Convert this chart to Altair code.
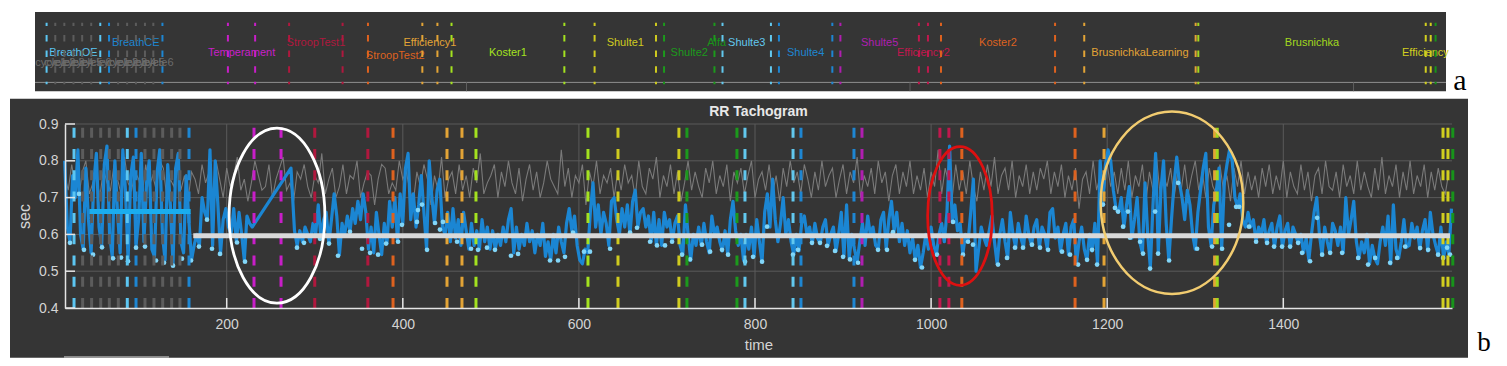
import altair as alt
import pandas as pd

# ---------------- scales / layout (plot area of panel b) ----------------
W, H = 1387, 184
T_DOMAIN_B = [16.35, 1591.6]      # time axis of the RR tachogram
T_DOMAIN_A = [47.35, 1611.0]      # time axis of the event strip (panel a)
Y_DOMAIN = [0.4, 0.9]

x_ticks = [200, 400, 600, 800, 1000, 1200, 1400]
y_ticks = [0.4, 0.5, 0.6, 0.7, 0.8, 0.9]
y_grid = [0.5, 0.6, 0.7, 0.8, 0.9]
strip_grid = [500, 1000, 1500]

# ---------------- blue RR series (t = start + 3*i) ----------------
blue_starts = [16, 273, 277, 403, 502, 613, 718, 832, 1003, 1078, 1192, 1366]
blue_a = [0.80, 0.62, 0.58, 0.76, 0.70, 0.83, 0.60, 0.56, 0.78, 0.64, 0.55, 0.74, 0.82, 0.62, 0.57,
          0.79, 0.84, 0.60, 0.54, 0.80, 0.66, 0.55, 0.83, 0.72, 0.53, 0.76, 0.81, 0.57, 0.64, 0.82,
          0.58, 0.74, 0.80, 0.56, 0.54, 0.77, 0.83, 0.60, 0.53, 0.79, 0.68, 0.52, 0.78, 0.82, 0.58,
          0.55, 0.76, 0.64, 0.53, 0.57, 0.60, 0.57, 0.70, 0.66, 0.64, 0.83, 0.57, 0.80, 0.68, 0.55,
          0.64, 0.67, 0.62, 0.60, 0.67, 0.58, 0.66, 0.60, 0.53, 0.65, 0.63, 0.62]
blue_gap = [0.78]
blue_b = [0.61, 0.57, 0.61, 0.58, 0.62, 0.60, 0.58, 0.63, 0.60, 0.68, 0.59, 0.64, 0.66, 0.575, 0.64,
          0.71, 0.65, 0.545, 0.63, 0.60, 0.65, 0.607, 0.67, 0.63, 0.69, 0.64, 0.71, 0.66, 0.56, 0.62,
          0.55, 0.66, 0.60, 0.545, 0.63, 0.575, 0.69, 0.62, 0.70, 0.58, 0.71, 0.63]
blue_c = [0.78, 0.82, 0.64, 0.71, 0.62, 0.68, 0.76, 0.66, 0.56, 0.80, 0.70, 0.63, 0.72, 0.75, 0.62,
          0.60, 0.66, 0.58, 0.67, 0.59, 0.64, 0.57, 0.66, 0.61, 0.56, 0.63, 0.57, 0.61, 0.56, 0.64,
          0.58, 0.62, 0.56]
blue_d = [0.61, 0.56, 0.60, 0.57, 0.62, 0.58, 0.64, 0.67, 0.55, 0.62, 0.56, 0.60, 0.57, 0.63, 0.58,
          0.61, 0.55, 0.60, 0.57, 0.63, 0.54, 0.58, 0.53, 0.60, 0.55, 0.62, 0.58, 0.55, 0.63, 0.67,
          0.61, 0.65, 0.57, 0.53, 0.52, 0.56, 0.55]
blue_e = [0.66, 0.74, 0.62, 0.68, 0.60, 0.66, 0.63, 0.57, 0.69, 0.70, 0.64, 0.60, 0.67, 0.62, 0.68,
          0.60, 0.69, 0.72, 0.62, 0.66, 0.67, 0.62, 0.65, 0.58, 0.66, 0.57, 0.64, 0.57, 0.66, 0.62,
          0.64, 0.58, 0.63, 0.65, 0.57]
blue_f = [0.545, 0.68, 0.60, 0.53, 0.60, 0.57, 0.62, 0.57, 0.63, 0.58, 0.55, 0.65, 0.60, 0.62, 0.58,
          0.555, 0.61, 0.545, 0.64, 0.69, 0.61, 0.57, 0.60, 0.53, 0.60, 0.56, 0.62, 0.54, 0.64, 0.58,
          0.525, 0.66, 0.71, 0.62, 0.75, 0.64, 0.58, 0.63]
blue_g = [0.70, 0.60, 0.64, 0.58, 0.545, 0.60, 0.555, 0.63, 0.65, 0.60, 0.62, 0.575, 0.63, 0.59, 0.575,
          0.62, 0.64, 0.57, 0.60, 0.62, 0.555, 0.60, 0.66, 0.54, 0.68, 0.535, 0.60, 0.56, 0.525, 0.58,
          0.63, 0.57, 0.65, 0.60, 0.62, 0.57, 0.56, 0.64, 0.66, 0.56, 0.64, 0.69, 0.61, 0.66, 0.58,
          0.63, 0.57, 0.61, 0.55, 0.59, 0.53, 0.57, 0.51, 0.55, 0.60, 0.56, 0.62]
blue_h = [0.57, 0.545, 0.60, 0.63, 0.58, 0.66, 0.84, 0.635, 0.68, 0.61, 0.63, 0.545, 0.60, 0.58, 0.66,
          0.75, 0.50, 0.56, 0.62, 0.59, 0.57, 0.61, 0.65, 0.58, 0.52]
blue_i = [0.60, 0.64, 0.58, 0.535, 0.66, 0.60, 0.565, 0.63, 0.59, 0.565, 0.65, 0.60, 0.57, 0.62, 0.64,
          0.565, 0.62, 0.60, 0.56, 0.66, 0.67, 0.59, 0.62, 0.555, 0.60, 0.63, 0.545, 0.62, 0.64, 0.52,
          0.58, 0.62, 0.56, 0.53, 0.60, 0.555, 0.63, 0.52]
blue_j = [0.80, 0.68, 0.79, 0.83, 0.80, 0.72, 0.67, 0.66, 0.70, 0.62, 0.68, 0.73, 0.59, 0.64, 0.70,
          0.58, 0.55, 0.74, 0.60, 0.51, 0.68, 0.82, 0.55, 0.72, 0.80, 0.63, 0.53, 0.64, 0.74, 0.81,
          0.74, 0.70, 0.64, 0.72, 0.68, 0.60, 0.56, 0.66, 0.72, 0.78, 0.82, 0.62, 0.57, 0.68, 0.72,
          0.78, 0.56, 0.74, 0.79, 0.83, 0.80, 0.70, 0.675, 0.71, 0.64, 0.62, 0.66, 0.62]
blue_k = [0.64, 0.58, 0.62, 0.60, 0.64, 0.575, 0.61, 0.63, 0.565, 0.62, 0.65, 0.565, 0.61, 0.63, 0.565,
          0.62, 0.60, 0.575, 0.60, 0.55, 0.59, 0.53, 0.60, 0.66, 0.70, 0.60, 0.545, 0.62, 0.58, 0.55,
          0.63, 0.61, 0.57, 0.62, 0.55, 0.70, 0.60, 0.64, 0.69, 0.58, 0.535, 0.58, 0.55, 0.60, 0.52,
          0.57, 0.535, 0.52, 0.58, 0.62, 0.57, 0.65, 0.52, 0.68, 0.56, 0.535, 0.58, 0.64, 0.565, 0.57,
          0.63, 0.59, 0.62, 0.56, 0.61, 0.64, 0.555, 0.66, 0.60, 0.57, 0.545, 0.62, 0.535, 0.58, 0.545,
          0.67]
blue_segments = [blue_a, blue_gap, blue_b, blue_c, blue_d, blue_e, blue_f, blue_g, blue_h,
                 blue_i, blue_j, blue_k]

# ---------------- gray RR series (t = 16 + 4*i) ----------------
gray_v = [
    0.76, 0.72, 0.79, 0.73, 0.70, 0.77, 0.80, 0.71, 0.74, 0.76, 0.70, 0.78, 0.74, 0.72, 0.79, 0.75, 0.71, 0.81, 0.74, 0.72,
    0.77, 0.75, 0.70, 0.79, 0.73, 0.76, 0.72, 0.80, 0.78, 0.70, 0.75, 0.73, 0.82, 0.72, 0.76, 0.69, 0.77, 0.75, 0.71, 0.79,
    0.74, 0.77, 0.71, 0.80, 0.75, 0.70, 0.78, 0.73, 0.76, 0.81, 0.72, 0.75, 0.69, 0.74, 0.80, 0.76, 0.72, 0.73, 0.79, 0.70,
    0.75, 0.78, 0.81, 0.72, 0.74, 0.69, 0.77, 0.75, 0.79, 0.73, 0.70, 0.76, 0.74, 0.82, 0.71, 0.75, 0.78, 0.70, 0.73, 0.79,
    0.71, 0.76, 0.75, 0.80, 0.70, 0.74, 0.77, 0.76, 0.68, 0.75, 0.79, 0.78, 0.71, 0.74, 0.72, 0.80, 0.75, 0.77, 0.72, 0.69,
    0.77, 0.73, 0.79, 0.75, 0.68, 0.76, 0.72, 0.81, 0.70, 0.75, 0.77, 0.71, 0.79, 0.72, 0.76, 0.70, 0.78, 0.74, 0.82, 0.71,
    0.74, 0.76, 0.79, 0.70, 0.77, 0.73, 0.80, 0.74, 0.71, 0.78, 0.69, 0.75, 0.79, 0.72, 0.77, 0.70, 0.74, 0.80, 0.75, 0.73,
    0.71, 0.83, 0.73, 0.78, 0.70, 0.76, 0.74, 0.79, 0.68, 0.77, 0.73, 0.80, 0.71, 0.76, 0.74, 0.78, 0.70, 0.77, 0.72, 0.79,
    0.74, 0.76, 0.70, 0.80, 0.73, 0.71, 0.78, 0.75, 0.81, 0.70, 0.76, 0.73, 0.79, 0.71, 0.77, 0.69, 0.74, 0.80, 0.72, 0.77,
    0.73, 0.70, 0.78, 0.74, 0.80, 0.71, 0.76, 0.73, 0.79, 0.69, 0.77, 0.74, 0.78, 0.71, 0.76, 0.80, 0.70, 0.75, 0.77, 0.72,
    0.79, 0.71, 0.76, 0.69, 0.78, 0.73, 0.80, 0.74, 0.77, 0.71, 0.79, 0.75, 0.70, 0.77, 0.72, 0.80, 0.73, 0.76, 0.78, 0.70,
    0.75, 0.79, 0.71, 0.77, 0.74, 0.81, 0.70, 0.76, 0.73, 0.78, 0.71, 0.80, 0.74, 0.77, 0.69, 0.76, 0.79, 0.71, 0.77, 0.73,
    0.80, 0.71, 0.76, 0.72, 0.78, 0.70, 0.77, 0.73, 0.83, 0.71, 0.78, 0.74, 0.70, 0.79, 0.72, 0.77, 0.71, 0.80, 0.73, 0.69,
    0.77, 0.72, 0.79, 0.73, 0.81, 0.71, 0.76, 0.78, 0.72, 0.80, 0.70, 0.76, 0.73, 0.79, 0.71, 0.77, 0.72, 0.78, 0.75, 0.80,
    0.71, 0.77, 0.73, 0.79, 0.70, 0.76, 0.72, 0.78, 0.67, 0.75, 0.77, 0.71, 0.80, 0.72, 0.76, 0.70, 0.79, 0.73, 0.77, 0.71,
    0.78, 0.72, 0.80, 0.70, 0.76, 0.73, 0.79, 0.69, 0.77, 0.72, 0.81, 0.71, 0.76, 0.73, 0.78, 0.70, 0.77, 0.72, 0.79, 0.71,
    0.76, 0.80, 0.72, 0.77, 0.70, 0.78, 0.73, 0.71, 0.79, 0.72, 0.76, 0.69, 0.78, 0.73, 0.80, 0.71, 0.77, 0.72, 0.76, 0.70,
    0.78, 0.73, 0.79, 0.71, 0.76, 0.72, 0.80, 0.70, 0.77, 0.73, 0.71, 0.79, 0.72, 0.77, 0.69, 0.76, 0.78, 0.71, 0.80, 0.73,
    0.72, 0.77, 0.70, 0.79, 0.73, 0.76, 0.71, 0.80, 0.72, 0.77, 0.73, 0.70, 0.78, 0.72, 0.81, 0.71, 0.76, 0.73, 0.79, 0.70,
    0.77, 0.72, 0.80, 0.71, 0.76, 0.73, 0.79, 0.70, 0.77, 0.72, 0.78, 0.73, 0.71, 0.77,
]

# ---------------- light-blue beat dots ----------------
dot_t = [22.0, 32.3, 37.9, 48.2, 58.4, 70.9, 80.0, 87.9, 97.0, 107.2, 119.7, 128.8, 139.0, 149.2, 159.5,
         168.5, 177.6, 183.3, 192.4, 211.7, 220.8, 279.8, 287.8, 306.0, 316.2, 326.4, 340.0, 353.7, 362.8,
         371.9, 381.0, 394.6, 399.1, 416.1, 417.2, 421.8, 427.5, 436.6, 442.2, 445.6, 461.6, 477.5, 485.4,
         495.6, 504.7, 522.9, 530.9, 567.2, 576.3, 584.2, 593.3, 605.8, 612.6, 635.4, 658.1, 666.0, 680.8,
         688.7, 697.8, 705.8, 717.1, 726.2, 739.9, 749.0, 762.5, 769.4, 788.7, 797.8, 808.0, 813.7, 843.1,
         848.8, 864.7, 873.8, 881.8, 890.9, 900.0, 907.9, 917.0, 939.7, 949.9, 956.7, 981.7, 989.7, 1006.7,
         1024.9, 1036.2, 1041.9, 1047.6, 1076.0, 1086.2, 1095.3, 1104.4, 1114.6, 1123.7, 1132.8, 1148.7,
         1157.8, 1166.9, 1177.1, 1182.8, 1188.5, 1195.2, 1208.8, 1212.3, 1218.0, 1223.6, 1225.9, 1237.3,
         1240.7, 1248.7, 1254.4, 1257.8, 1270.3, 1280.5, 1302.1, 1319.1, 1330.5, 1338.4, 1346.4, 1349.8,
         1361.1, 1369.1, 1381.6, 1389.5, 1398.6, 1407.7, 1416.8, 1421.3, 1430.4, 1438.4, 1444.1, 1453.2,
         1466.8, 1485.0, 1496.3, 1504.3, 1521.3, 1529.3, 1538.4, 1555.4, 1564.5, 1575.8, 1581.5, 1586.0,
         1589.4]
dot_v = [0.577, 0.71, 0.558, 0.545, 0.565, 0.535, 0.537, 0.527, 0.564, 0.567, 0.529, 0.523, 0.515, 0.534, 0.529,
         0.567, 0.64, 0.561, 0.547, 0.578, 0.526, 0.564, 0.577, 0.588, 0.575, 0.542, 0.607, 0.561, 0.55,
         0.545, 0.575, 0.58, 0.626, 0.634, 0.666, 0.681, 0.558, 0.631, 0.613, 0.634, 0.58, 0.561, 0.558,
         0.564, 0.558, 0.542, 0.547, 0.529, 0.529, 0.539, 0.605, 0.553, 0.553, 0.561, 0.605, 0.618, 0.58,
         0.57, 0.57, 0.58, 0.545, 0.532, 0.572, 0.553, 0.558, 0.545, 0.526, 0.539, 0.526, 0.621, 0.545,
         0.558, 0.577, 0.577, 0.569, 0.555, 0.539, 0.532, 0.523, 0.558, 0.558, 0.606, 0.531, 0.51, 0.545,
         0.634, 0.545, 0.58, 0.572, 0.518, 0.536, 0.564, 0.564, 0.572, 0.564, 0.558, 0.553,
         0.545, 0.518, 0.531, 0.558, 0.518, 0.681, 0.672, 0.662, 0.621, 0.662, 0.591, 0.58,
         0.548, 0.507, 0.662, 0.548, 0.529, 0.74, 0.561, 0.567, 0.561, 0.626, 0.675, 0.675,
         0.621, 0.58, 0.577, 0.567, 0.567, 0.567, 0.577, 0.55, 0.527, 0.645, 0.545, 0.55,
         0.55, 0.536, 0.518, 0.536, 0.523, 0.536, 0.567, 0.563, 0.558, 0.545, 0.536, 0.564,
         0.545]

# ---------------- mean lines ----------------
mean_kind = ["baseline", "session"]
mean_t0 = [44.0, 162.0]
mean_t1 = [159.1, 1589.3]
mean_v = [0.6625, 0.5965]

# ---------------- events ----------------
event_names = ["BreathOE", "BreathCE", "cycle", "Temperament", "StroopTest1", "StroopTest2",
               "Efficiency1", "Koster1", "Shulte1", "Shulte2", "Alfa", "Shulte3", "Shulte4",
               "Shulte5", "Efficiency2", "Koster2", "BrusnichkaLearning", "Brusnichka", "Efficiency"]
event_colors = ["#5CC6F2", "#1E86D2", "#5C5C5C", "#C81EC8", "#B0183E", "#DE621F",
                "#E3A436", "#A4E21F", "#CFCB1F", "#1C9A1C", "#17941A", "#62C8EE", "#1E86D2",
                "#B01EB0", "#C0184E", "#DE621F", "#E3A436", "#A2D81F", "#D2CF1F"]

marker_t = [26.6, 36.4, 46.6, 56.9, 66.7, 76.9, 87.1, 97.0, 107.2, 117.4, 127.3, 137.5, 146.9, 157.2,
            231.0, 261.7, 300.0, 360.3, 388.9, 450.2, 467.2, 483.1, 610.3, 644.4, 713.6, 722.7, 779.5,
            788.6, 843.2, 852.2, 912.4, 921.5, 1010.0, 1020.2, 1034.9, 1163.5, 1196.4, 1322.0, 1325.0,
            1581.4, 1587.0, 1592.5]
marker_event = ["BreathOE", "cycle", "cycle", "cycle", "cycle", "cycle", "BreathOE", "BreathCE",
                "cycle", "cycle", "cycle", "cycle", "cycle", "BreathCE", "Temperament", "Temperament",
                "StroopTest1", "StroopTest1", "StroopTest2", "Efficiency1", "Efficiency1", "Koster1",
                "Koster1", "Shulte1", "Shulte1", "Shulte2", "Shulte2", "Shulte3", "Shulte3", "Shulte4",
                "Shulte4", "Shulte5", "Efficiency2", "Efficiency2", "Koster2", "Koster2",
                "BrusnichkaLearning", "BrusnichkaLearning", "Brusnichka", "Efficiency", "Efficiency", "Alfa"]

label_name = ["BreathOE", "BreathCE", "Temperament", "StroopTest1", "StroopTest2", "Efficiency1",
              "Koster1", "Shulte1", "Shulte2", "Alfa", "Shulte3", "Shulte4", "Shulte5", "Efficiency2",
              "Koster2", "BrusnichkaLearning", "Brusnichka", "Efficiency"]
label_t = [56.9, 127.1, 246.4, 330.2, 419.6, 458.7, 546.7, 679.0, 751.1, 782.0, 815.9, 882.3, 965.7,
           1015.1, 1099.2, 1259.2, 1453.2, 1581.0]
label_row = ["lower", "upper", "lower", "upper", "lower2", "upper", "lower", "upper", "lower", "upper",
             "upper", "lower", "upper", "lower", "upper", "lower", "upper", "lower"]

cycle_name = ["cycle1", "cycle2", "cycle3", "cycle4", "cycle5", "cycle6",
              "cycle1", "cycle2", "cycle3", "cycle4", "cycle5", "cycle6"]
cycle_t = [31.5, 41.5, 51.8, 61.8, 71.8, 82.0, 102.1, 112.3, 122.4, 132.4, 142.2, 152.1]

# highlighted regions (centres)
ellipse_t = [257.1, 1032.8, 1273.6]
ellipse_v = [0.651, 0.650, 0.686]

# ---------------- build tables ----------------
blue_rows = []
for start, seg in zip(blue_starts, blue_segments):
    for i, v in enumerate(seg):
        blue_rows.append({"t": start + 3 * i, "v": v})
blue_df = pd.DataFrame(blue_rows)
gray_df = pd.DataFrame({"t": [16 + 4 * i for i in range(len(gray_v))], "v": gray_v})
dot_df = pd.DataFrame({"t": dot_t, "v": dot_v})
mean_df = pd.DataFrame({"kind": mean_kind, "t0": mean_t0, "t1": mean_t1, "v": mean_v})
marker_df = pd.DataFrame({"t": marker_t, "event": marker_event})
label_df = pd.DataFrame({"t": label_t, "name": label_name, "row": label_row})
cycle_df = pd.DataFrame({"t": cycle_t, "name": cycle_name})
xtick_df = pd.DataFrame({"t": x_ticks})
ytick_df = pd.DataFrame({"v": y_ticks})
ygrid_df = pd.DataFrame({"v": y_grid})
sgrid_df = pd.DataFrame({"t": strip_grid})
one = pd.DataFrame({"k": [0]})

# ---------------- styling ----------------
FONT = "Liberation Sans"
PANEL = "#353535"
LABEL = "#D4D4D4"
GRID = "#5A5A5A"
AXISLINE = "#E4E4E4"

bx = alt.Scale(domain=T_DOMAIN_B, nice=False, zero=False)
ax = alt.Scale(domain=T_DOMAIN_A, nice=False, zero=False)
ys = alt.Scale(domain=Y_DOMAIN, nice=False, zero=False)
ev_color = alt.Scale(domain=event_names, range=event_colors)

x_axis = alt.Axis(values=x_ticks, format="d", grid=False, ticks=False, domainColor=AXISLINE,
                  domainWidth=1.5, labelColor=LABEL, labelFont=FONT, labelFontSize=14, labelPadding=9,
                  labelFlush=False, title="time", titleColor=LABEL, titleFont=FONT, titleFontSize=15,
                  titleFontWeight="normal", titlePadding=6, zindex=1)
y_axis = alt.Axis(values=y_ticks, format=".1f", grid=False, ticks=False, domainColor=AXISLINE,
                  domainWidth=1.5, labelColor=LABEL, labelFont=FONT, labelFontSize=14, labelPadding=7,
                  labelFlush=False, title="sec", titleColor=LABEL, titleFont=FONT, titleFontSize=16,
                  titleFontWeight="normal", titlePadding=6, zindex=1)

layers = []

# panel backgrounds
layers.append(alt.Chart(one).mark_rect(color=PANEL).encode(
    x=alt.value(-55), x2=alt.value(1403), y=alt.value(-25.3), y2=alt.value(233.7)))
layers.append(alt.Chart(one).mark_rect(color=PANEL).encode(
    x=alt.value(-30), x2=alt.value(1381), y=alt.value(-112), y2=alt.value(-32.8)))

# strip baseline and its grid stubs
layers.append(alt.Chart(one).mark_rule(color="#8E8E8E", strokeWidth=1).encode(
    x=alt.value(-30), x2=alt.value(1381), y=alt.value(-41.6)))
layers.append(alt.Chart(sgrid_df).mark_rule(color="#5E5E5E", strokeWidth=1).encode(
    x=alt.X("t:Q", scale=ax, axis=None), y=alt.value(-41.6), y2=alt.value(-32.8)))

# grid of panel b
layers.append(alt.Chart(xtick_df).mark_rule(color=GRID, strokeWidth=1).encode(
    x=alt.X("t:Q", scale=bx, axis=None), y=alt.value(0), y2=alt.value(H)))
layers.append(alt.Chart(ygrid_df).mark_rule(color=GRID, strokeWidth=1).encode(
    y=alt.Y("v:Q", scale=ys, axis=None), x=alt.value(0), x2=alt.value(W)))

# gray series (carries axes)
layers.append(alt.Chart(gray_df).mark_line(color="#7A7A7A", strokeWidth=1.1).encode(
    x=alt.X("t:Q", scale=bx, axis=x_axis), y=alt.Y("v:Q", scale=ys, axis=y_axis)))

# blue series
layers.append(alt.Chart(blue_df).mark_line(color="#1B86D3", strokeWidth=3.2, strokeJoin="round").encode(
    x=alt.X("t:Q", scale=bx, axis=None), y=alt.Y("v:Q", scale=ys, axis=None)))

# dots
layers.append(alt.Chart(dot_df).mark_circle(color="#82D6F8", size=22, opacity=1).encode(
    x=alt.X("t:Q", scale=bx, axis=None), y=alt.Y("v:Q", scale=ys, axis=None)))

# event markers in panel b
layers.append(alt.Chart(marker_df).mark_rule(strokeWidth=3, strokeDash=[10, 11.3],
                                             strokeDashOffset=17.6).encode(
    x=alt.X("t:Q", scale=bx, axis=None), y=alt.value(0), y2=alt.value(H),
    color=alt.Color("event:N", scale=ev_color, legend=None)))

# mean lines
layers.append(alt.Chart(mean_df).mark_rule(strokeWidth=5).encode(
    x=alt.X("t0:Q", scale=bx, axis=None), x2="t1:Q", y=alt.Y("v:Q", scale=ys, axis=None),
    color=alt.Color("kind:N", scale=alt.Scale(domain=mean_kind, range=["#1AADEE", "#D9D9D9"]),
                    legend=None)))

# highlighted regions (ellipses)
K = 0.5523
ell_style = [(47.9, 87.5, "#FFFFFF", 2.8), (32.3, 69.3, "#DD1010", 2.8), (71.3, 91.2, "#F2CC70", 2.5)]
for i, (rx, ry, col, sw) in enumerate(ell_style):
    a = rx / ry
    path = (f"M 0 -1 C {K*a:.4f} -1 {a:.4f} {-K:.4f} {a:.4f} 0 C {a:.4f} {K:.4f} {K*a:.4f} 1 0 1 "
            f"C {-K*a:.4f} 1 {-a:.4f} {K:.4f} {-a:.4f} 0 C {-a:.4f} {-K:.4f} {-K*a:.4f} -1 0 -1 Z")
    edf = pd.DataFrame({"t": [ellipse_t[i]], "v": [ellipse_v[i]]})
    layers.append(alt.Chart(edf).mark_point(shape=path, size=(2 * ry) ** 2, filled=False, stroke=col,
                                            strokeWidth=sw, opacity=1).encode(
        x=alt.X("t:Q", scale=bx, axis=None), y=alt.Y("v:Q", scale=ys, axis=None)))

# inward ticks
layers.append(alt.Chart(xtick_df).mark_rule(color=AXISLINE, strokeWidth=1.5).encode(
    x=alt.X("t:Q", scale=bx, axis=None), y=alt.value(H - 10), y2=alt.value(H)))
layers.append(alt.Chart(ytick_df).mark_rule(color=AXISLINE, strokeWidth=1.5).encode(
    y=alt.Y("v:Q", scale=ys, axis=None), x=alt.value(0), x2=alt.value(10)))

# panel a labels
layers.append(alt.Chart(cycle_df).mark_text(font=FONT, fontSize=11, color="#6C6C6C",
                                            baseline="middle", align="center").encode(
    x=alt.X("t:Q", scale=ax, axis=None), y=alt.value(-61), text="name:N"))
row_y = {"upper": -81, "lower": -71, "lower2": -67.6}
for row, yy in row_y.items():
    layers.append(alt.Chart(label_df).transform_filter(alt.datum.row == row).mark_text(
        font=FONT, fontSize=11, baseline="middle", align="center").encode(
        x=alt.X("t:Q", scale=ax, axis=None), y=alt.value(yy), text="name:N",
        color=alt.Color("name:N", scale=ev_color, legend=None)))

# panel a markers
layers.append(alt.Chart(marker_df).mark_rule(strokeWidth=2, strokeDash=[6.5, 9.1],
                                             strokeDashOffset=3.3).encode(
    x=alt.X("t:Q", scale=ax, axis=None), y=alt.value(-101.3), y2=alt.value(-39.8),
    color=alt.Color("event:N", scale=ev_color, legend=None)))

# title, panel letters, scroll bar stub
layers.append(alt.Chart(one).mark_text(text="RR Tachogram", font=FONT, fontSize=14, fontWeight="bold",
                                       color="#E8E8E8", baseline="middle", align="center").encode(
    x=alt.value(W / 2), y=alt.value(-12.3)))
layers.append(alt.Chart(one).mark_text(text="a", font="Liberation Serif", fontSize=30, color="black",
                                       baseline="alphabetic", align="center").encode(
    x=alt.value(1395), y=alt.value(-34.3)))
layers.append(alt.Chart(one).mark_text(text="b", font="Liberation Serif", fontSize=27, color="black",
                                       baseline="bottom", align="center").encode(
    x=alt.value(1419), y=alt.value(233.4)))
layers.append(alt.Chart(one).mark_rule(color="#A8A8A8", strokeWidth=1.5).encode(
    x=alt.value(-1), x2=alt.value(104), y=alt.value(232.9)))

chart = alt.layer(*layers).resolve_scale(
    x="independent", y="independent", color="independent"
).properties(
    width=W, height=H,
    padding={"left": 57, "top": 116, "right": 47, "bottom": 50},
    autosize=alt.AutoSizeParams(type="none"),
    background="white",
).configure_view(strokeWidth=0)

chart.save("out.html", embed_options={"renderer": "svg", "actions": False})
